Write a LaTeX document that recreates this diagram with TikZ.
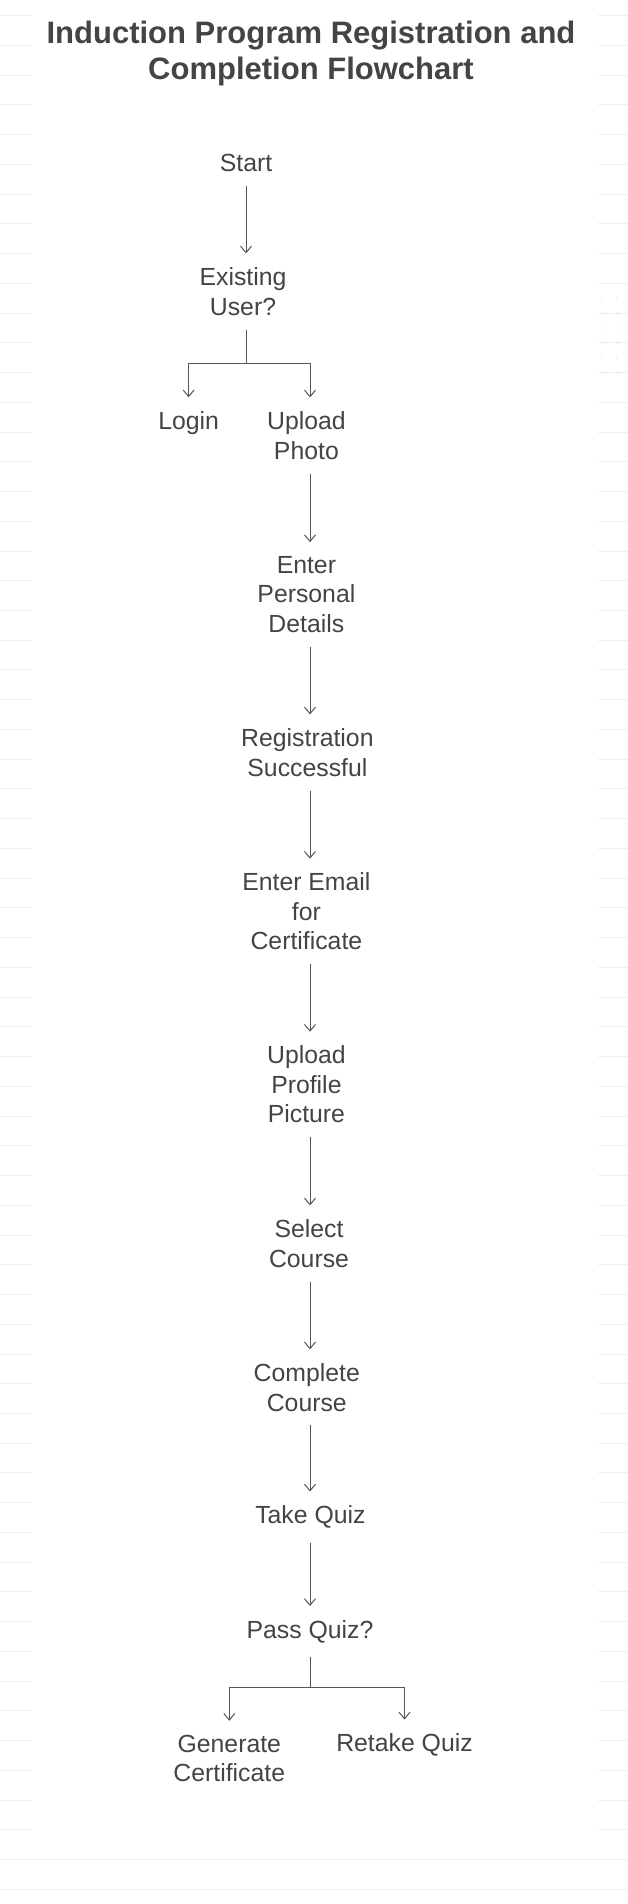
\documentclass[tikz,border=0pt]{standalone}
\usepackage{fontspec}
\setmainfont{Liberation Sans}
\usetikzlibrary{arrows.meta}
\definecolor{txtc}{HTML}{444444}
\definecolor{lnc}{HTML}{555555}
\definecolor{gridc}{HTML}{EEEEEE}
\definecolor{dotc}{HTML}{E4E4E4}
\tikzset{
  stepbox/.style={font=\fontsize{24.8}{29.5}\selectfont, text=txtc, align=center, inner xsep=2pt, inner ysep=14pt},
  titlebox/.style={font=\bfseries\fontsize{31}{36.5}\selectfont, text=txtc, align=center, inner sep=0pt},
  ln/.style={draw=lnc, line width=1pt},
  arr/.style={draw=lnc, line width=1pt, -{Straight Barb[length=6.5pt,width=11pt,line width=1pt]}},
  gridline/.style={draw=gridc, line width=1pt},
}
\begin{document}
\begin{tikzpicture}[x=1pt,y=-1pt]
\useasboundingbox (0,0) rectangle (628,1904);
\fill[white] (0,0) rectangle (628,1904);
% faint background lines
\foreach \k in {0,...,61}{
  \draw[gridline] (0,{15.7+29.74*\k}) -- (32,{15.7+29.74*\k});
  \draw[gridline] (598,{15.7+29.74*\k}) -- (628,{15.7+29.74*\k});
}
\foreach \k in {62,63}{
  \draw[gridline] (0,{15.7+29.74*\k}) -- (628,{15.7+29.74*\k});
}
\foreach \yy in {298,313,328,343,358,373}{
  \fill[dotc] (602,\yy) circle (0.8);
  \fill[dotc] (617,\yy) circle (0.8);
}
% column coordinates
\coordinate (scol) at (246,0);
\coordinate (col) at (310,0);
% title
\node[titlebox] (title) at (311,53.5) {Induction Program Registration and\\Completion Flowchart};
% nodes
\node[stepbox] (start) at (246,163) {Start};
\node[stepbox] (exist) at (243,291.5) {Existing\\User?};
\node[stepbox] (login) at (188.6,423) {Login};
\node[stepbox] (upload) at (306.4,435.5) {Upload\\Photo};
\node[stepbox] (personal) at (306.4,594.5) {Enter\\Personal\\Details};
\node[stepbox] (regsucc) at (307.4,752.5) {Registration\\Successful};
\node[stepbox] (email) at (306.4,911.5) {Enter Email\\for\\Certificate};
\node[stepbox] (profile) at (306.4,1084.5) {Upload\\Profile\\Picture};
\node[stepbox] (select) at (309,1243.5) {Select\\Course};
\node[stepbox] (complete) at (306.8,1387.4) {Complete\\Course};
\node[stepbox] (quiz) at (310.4,1517) {Take Quiz};
\node[stepbox] (pass) at (310,1631.5) {Pass Quiz?};
\node[stepbox] (gen) at (229.3,1758.5) {Generate\\Certificate};
\node[stepbox] (retake) at (404.5,1745) {Retake Quiz};
% junctions
\coordinate (j1) at (246,363);
\coordinate (j2) at (310,1687);
% connectors
\draw[arr] (start.south -| scol) -- (exist.north -| scol);
\draw[ln] (exist.south -| scol) -- (j1);
\draw[arr] (j1) -| (login.north);
\draw[arr] (j1) -| (upload.north -| col);
\draw[arr] (upload.south -| col) -- (personal.north -| col);
\draw[arr] (personal.south -| col) -- (regsucc.north -| col);
\draw[arr] (regsucc.south -| col) -- (email.north -| col);
\draw[arr] (email.south -| col) -- (profile.north -| col);
\draw[arr] (profile.south -| col) -- (select.north -| col);
\draw[arr] (select.south -| col) -- (complete.north -| col);
\draw[arr] (complete.south -| col) -- (quiz.north -| col);
\draw[arr] (quiz.south -| col) -- (pass.north -| col);
\draw[ln] (pass.south -| col) -- (j2);
\draw[arr] (j2) -| (gen.north);
\draw[arr] (j2) -| (retake.north);
\end{tikzpicture}
\end{document}
